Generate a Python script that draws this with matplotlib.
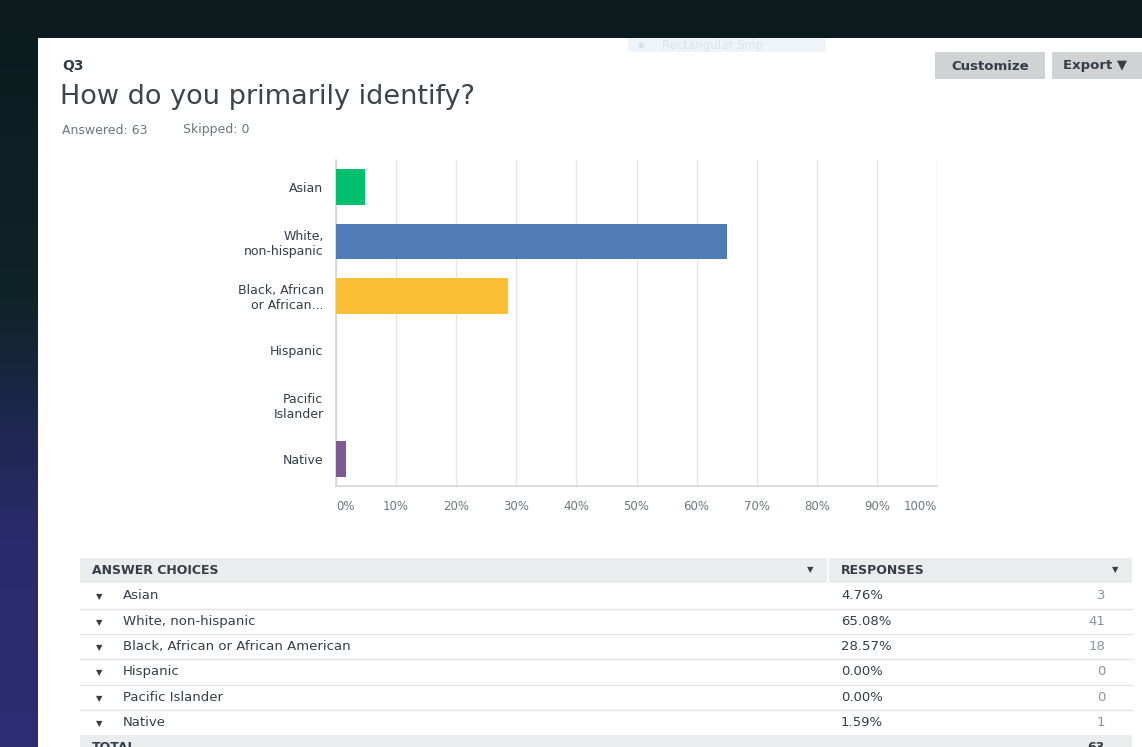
import numpy as np
import matplotlib.pyplot as plt
from matplotlib.patches import Rectangle
from matplotlib.colors import LinearSegmentedColormap

categories = ["Asian", "White,\nnon-hispanic", "Black, African\nor African...",
              "Hispanic", "Pacific\nIslander", "Native"]
choices = ["Asian", "White, non-hispanic", "Black, African or African American",
           "Hispanic", "Pacific Islander", "Native"]
percents = [4.76, 65.08, 28.57, 0.00, 0.00, 1.59]
counts = [3, 41, 18, 0, 0, 1]
bar_colors = ["#00bf6f", "#507cb6", "#f9be34", "#6bc8cd", "#ef8f5b", "#7d5a94"]
ticks = list(range(0, 101, 10))

W, H = 1142, 747
fig = plt.figure(figsize=(W / 100, H / 100), dpi=100)
fig.patch.set_facecolor("#0b1b1e")


def fx(x):
    return x / W


def fy(y):
    return 1 - y / H


# background: dark band on top, gradient strip on the left
bg = fig.add_axes([0, 0, 1, 1])
bg.set_axis_off()
grad = np.linspace(0, 1, 256).reshape(-1, 1)
cmap = LinearSegmentedColormap.from_list(
    "bg", [(0, "#0b1b1e"), (0.4, "#0f2428"), (0.58, "#1e2852"), (0.72, "#2a2b6c"), (1, "#2e2c72")])
bg.imshow(grad, aspect="auto", cmap=cmap, extent=[0, 1, 0, 1], origin="upper")
bg.set_xlim(0, 1)
bg.set_ylim(0, 1)

# white panel
fig.add_artist(Rectangle((fx(38), 0), 1 - fx(38), fy(38), transform=fig.transFigure,
                         facecolor="white", edgecolor="none", zorder=1))

# faint snipping-tool ghost
fig.add_artist(Rectangle((fx(628), fy(52)), fx(826) - fx(628), fy(38) - fy(52),
                         transform=fig.transFigure, facecolor="#eef4fa", edgecolor="none", zorder=2))
fig.text(fx(638), fy(45), "\u25cf", fontsize=5, color="#d5dde5", va="center", zorder=3)
fig.text(fx(662), fy(45), "Rectangular Snip", fontsize=8.5, color="#dbe4ec", va="center", zorder=3)

# header text
fig.text(fx(62), fy(66), "Q3", fontsize=10, fontweight="bold", color="#333e48", va="center", zorder=3)
fig.text(fx(60), fy(97), "How do you primarily identify?", fontsize=19.5, color="#3b454e",
         va="center", zorder=3)
fig.text(fx(62), fy(130), "Answered: 63", fontsize=9, color="#6b787f", va="center", zorder=3)
fig.text(fx(183), fy(130), "Skipped: 0", fontsize=9, color="#6b787f", va="center", zorder=3)

# buttons
for x0, x1 in [(935, 1045), (1052, 1150)]:
    fig.add_artist(Rectangle((fx(x0), fy(79)), fx(x1) - fx(x0), fy(52) - fy(79),
                             transform=fig.transFigure, facecolor="#d0d2d3", edgecolor="none", zorder=2))
fig.text(fx(990), fy(66), "Customize", fontsize=9.5, fontweight="bold", color="#333e48",
         ha="center", va="center", zorder=3)
fig.text(fx(1063), fy(66), "Export \u25bc", fontsize=9.5, fontweight="bold", color="#333e48",
         ha="left", va="center", zorder=3)

# bar chart
ax = fig.add_axes([fx(336), fy(486), (937 - 336) / W, (486 - 160) / H])
ax.set_zorder(4)
ax.set_facecolor("none")
y = np.arange(len(categories))
ax.barh(y, percents, height=0.66, color=bar_colors, zorder=3)
ax.set_xlim(0, 100)
ax.set_ylim(len(categories) - 0.5, -0.5)
ax.set_xticks(ticks)
ax.xaxis.grid(True, color="#e6e6e6", linewidth=1)
ax.set_axisbelow(True)
ax.set_yticks(y)
ax.set_yticklabels(categories, fontsize=9, color="#333e48", linespacing=1.15)
ax.tick_params(axis="y", length=0, pad=9)
ax.tick_params(axis="x", length=0, pad=10)
ax.set_xticklabels([f"{t}%" for t in ticks], fontsize=8.5, color="#6b787f")
labs = ax.get_xticklabels()
labs[0].set_ha("left")
labs[-1].set_ha("right")
for s in ["top", "right"]:
    ax.spines[s].set_visible(False)
for s in ["left", "bottom"]:
    ax.spines[s].set_color("#d4d4d4")
    ax.spines[s].set_linewidth(1.2)
# right gridline at 100%
ax.axvline(100, color="#e6e6e6", linewidth=1, zorder=0)

# table
tx0, tx1 = 80, 1132
row_h = 25.3
head_top = 558
fig.add_artist(Rectangle((fx(tx0), fy(head_top + row_h)), fx(tx1) - fx(tx0), row_h / H,
                         transform=fig.transFigure, facecolor="#ebeced", edgecolor="none", zorder=2))
fig.add_artist(plt.Line2D([fx(828), fx(828)], [fy(head_top), fy(head_top + row_h)],
                          transform=fig.transFigure, color="white", linewidth=1.2, zorder=3))
hc = head_top + row_h / 2
fig.text(fx(92), fy(hc), "ANSWER CHOICES", fontsize=9, fontweight="bold", color="#333e48",
         va="center", zorder=3)
fig.text(fx(841), fy(hc), "RESPONSES", fontsize=9, fontweight="bold", color="#333e48",
         va="center", zorder=3)
fig.text(fx(810), fy(hc - 1), "\u25bc", fontsize=6, color="#333e48", ha="center", va="center", zorder=3)
fig.text(fx(1115), fy(hc - 1), "\u25bc", fontsize=6, color="#333e48", ha="center", va="center", zorder=3)

for i, (name, p, c) in enumerate(zip(choices, percents, counts)):
    top = head_top + row_h * (i + 1)
    cy = top + row_h / 2
    fig.text(fx(99), fy(cy + 1), "\u25bc", fontsize=6, color="#333e48", ha="center", va="center", zorder=3)
    fig.text(fx(123), fy(cy), name, fontsize=9.5, color="#333e48", va="center", zorder=3)
    fig.text(fx(841), fy(cy), f"{p:.2f}%", fontsize=9.5, color="#333e48", va="center", zorder=3)
    fig.text(fx(1105), fy(cy), str(c), fontsize=9.5, color="#8a9499", ha="right", va="center", zorder=3)
    if i < len(choices) - 1:
        fig.add_artist(plt.Line2D([fx(tx0), fx(tx1)], [fy(top + row_h), fy(top + row_h)],
                                  transform=fig.transFigure, color="#e2e3e4", linewidth=1, zorder=3))

# total row (cut off at the bottom of the screenshot)
total_top = head_top + row_h * (len(choices) + 1)
fig.add_artist(Rectangle((fx(tx0), 0), fx(tx1) - fx(tx0), fy(total_top),
                         transform=fig.transFigure, facecolor="#ebeced", edgecolor="none", zorder=2))
fig.text(fx(92), fy(total_top + 12), "TOTAL", fontsize=9, fontweight="bold", color="#333e48",
         va="center", zorder=3)
fig.text(fx(1105), fy(total_top + 12), str(sum(counts)), fontsize=9, fontweight="bold",
         color="#333e48", ha="right", va="center", zorder=3)

fig.savefig("out.png", dpi=100, facecolor=fig.get_facecolor())
